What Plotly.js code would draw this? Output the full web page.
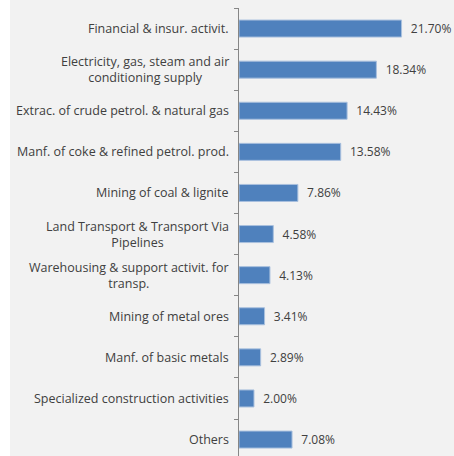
<!DOCTYPE html>
<html>
<head>
<meta charset="utf-8">
<script src="https://cdn.plot.ly/plotly-3.0.1.min.js"></script>
<style>
html,body{margin:0;padding:0;background:#ffffff;}
#chart{position:absolute;left:10px;top:0;width:444px;height:456px;}
</style>
</head>
<body>
<div id="chart"></div>
<script>
var categories = [
  "Financial & insur. activit.",
  "Electricity, gas, steam and air<br>conditioning supply",
  "Extrac. of crude petrol. & natural gas",
  "Manf. of coke & refined petrol. prod.",
  "Mining of coal & lignite",
  "Land Transport & Transport Via<br>Pipelines",
  "Warehousing & support activit. for<br>transp.",
  "Mining of metal ores",
  "Manf. of basic metals",
  "Specialized construction activities",
  "Others"
];
var shares = [21.70, 18.34, 14.43, 13.58, 7.86, 4.58, 4.13, 3.41, 2.89, 2.00, 7.08];

var FONT = "Open Sans, Liberation Sans, Arial, sans-serif";

var trace = {
  type: "bar",
  orientation: "h",
  x: shares,
  y: categories,
  marker: {color: "#4f81bd", line: {color: "#a9c0de", width: 1}},
  texttemplate: "\u00a0\u00a0%{x:.2f}%",
  textposition: "outside",
  cliponaxis: false,
  constraintext: "none",
  textfont: {family: FONT, size: 12, color: "#404040"},
  hoverinfo: "none"
};

var annotations = categories.map(function (c) {
  return {
    xref: "paper", yref: "y",
    x: 0, y: c,
    text: c,
    xanchor: "right", yanchor: "middle",
    align: "center",
    xshift: -8,
    showarrow: false,
    font: {family: FONT, size: 12.5, color: "#404040"}
  };
});

var layout = {
  width: 444,
  height: 456,
  margin: {l: 229, r: 0, t: 8, b: 0, pad: 0},
  paper_bgcolor: "#f2f2f2",
  plot_bgcolor: "#f2f2f2",
  bargap: 0.586,
  showlegend: false,
  font: {family: FONT, size: 12, color: "#404040"},
  annotations: annotations,
  xaxis: {
    range: [0, 28.7],
    showgrid: false, zeroline: false, showline: false,
    showticklabels: false, ticks: ""
  },
  yaxis: {
    type: "category",
    range: [10.40, -0.5],
    showgrid: false, zeroline: false,
    showline: true, linecolor: "#868686", linewidth: 1,
    ticks: "outside", ticklen: 4, tickcolor: "#868686", tickwidth: 1,
    tickson: "boundaries",
    showticklabels: false
  }
};

Plotly.newPlot("chart", [trace], layout, {staticPlot: true, displayModeBar: false});
</script>
</body>
</html>
